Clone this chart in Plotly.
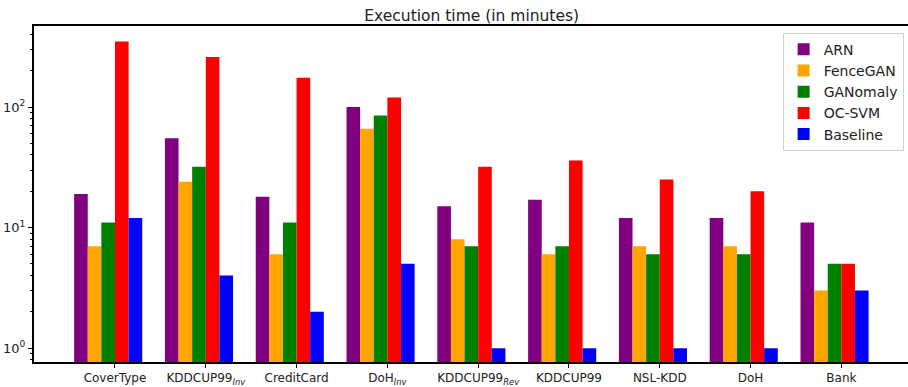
import plotly.graph_objects as go

# Datasets (x-axis groups)
categories = [
    "CoverType", "KDDCUP99<sub><i>Inv</i></sub>", "CreditCard", "DoH<sub><i>Inv</i></sub>",
    "KDDCUP99<sub><i>Rev</i></sub>", "KDDCUP99", "NSL-KDD", "DoH", "Bank",
]

# Execution time in minutes per method
arn       = [19, 55, 18, 100, 15, 17, 12, 12, 11]
fencegan  = [7, 24, 6, 66, 8, 6, 7, 7, 3]
ganomaly  = [11, 32, 11, 85, 7, 7, 6, 6, 5]
oc_svm    = [350, 260, 175, 120, 32, 36, 25, 20, 5]
baseline  = [12, 4, 2, 5, 1, 1, 1, 1, 3]

series = [
    ("ARN", arn, "purple"),
    ("FenceGAN", fencegan, "orange"),
    ("GANomaly", ganomaly, "green"),
    ("OC-SVM", oc_svm, "red"),
    ("Baseline", baseline, "blue"),
]

y_tickvals = [1, 10, 100]
y_ticktext = ["10<sup>0</sup>", "10<sup>1</sup>", "10<sup>2</sup>"]

bar_w = 0.15
idx = list(range(len(categories)))

fig = go.Figure()
for k, (name, vals, color) in enumerate(series):
    fig.add_trace(go.Bar(
        x=[i + (k - 2.5) * bar_w for i in idx],
        y=vals,
        width=bar_w,
        name=name,
        marker=dict(color=color, line=dict(width=0)),
    ))

font_family = "DejaVu Sans"
fig.update_layout(
    width=908, height=387,
    margin=dict(l=34, r=0, t=26, b=21),
    paper_bgcolor="white", plot_bgcolor="white",
    barmode="overlay",
    font=dict(family=font_family, size=12, color="#222"),
    title=dict(text="Execution time (in minutes)", x=0.5195, xanchor="center",
               y=1 - 16 / 387, yanchor="middle",
               font=dict(family=font_family, size=15.5, color="#222")),
    showlegend=True,
    legend=dict(
        x=0.995, y=0.98, xanchor="right", yanchor="top",
        bgcolor="rgba(255,255,255,0.8)", bordercolor="#d0d0d0", borderwidth=1,
        font=dict(family=font_family, size=14, color="#222"),
        tracegroupgap=0, itemsizing="constant",
    ),
    xaxis=dict(
        range=[-0.892, 8.734],
        tickmode="array", tickvals=idx, ticktext=categories,
        showgrid=False, zeroline=False,
        showline=True, linecolor="black", linewidth=2, mirror=True,
        ticks="outside", ticklen=4, tickwidth=1, tickcolor="black",
        tickfont=dict(family=font_family, size=12, color="#222"),
    ),
    yaxis=dict(
        type="log", range=[-0.115, 2.672],
        tickmode="array", tickvals=y_tickvals, ticktext=y_ticktext,
        showgrid=False, zeroline=False,
        showline=True, linecolor="black", linewidth=2, mirror=False,
        ticks="outside", ticklen=4, tickwidth=1, tickcolor="black",
        tickfont=dict(family=font_family, size=13, color="#222"),
        minor=dict(ticks="outside", ticklen=2, tickwidth=1, tickcolor="black",
                   dtick="D1", showgrid=False),
    ),
)

fig.write_html("out.html")
